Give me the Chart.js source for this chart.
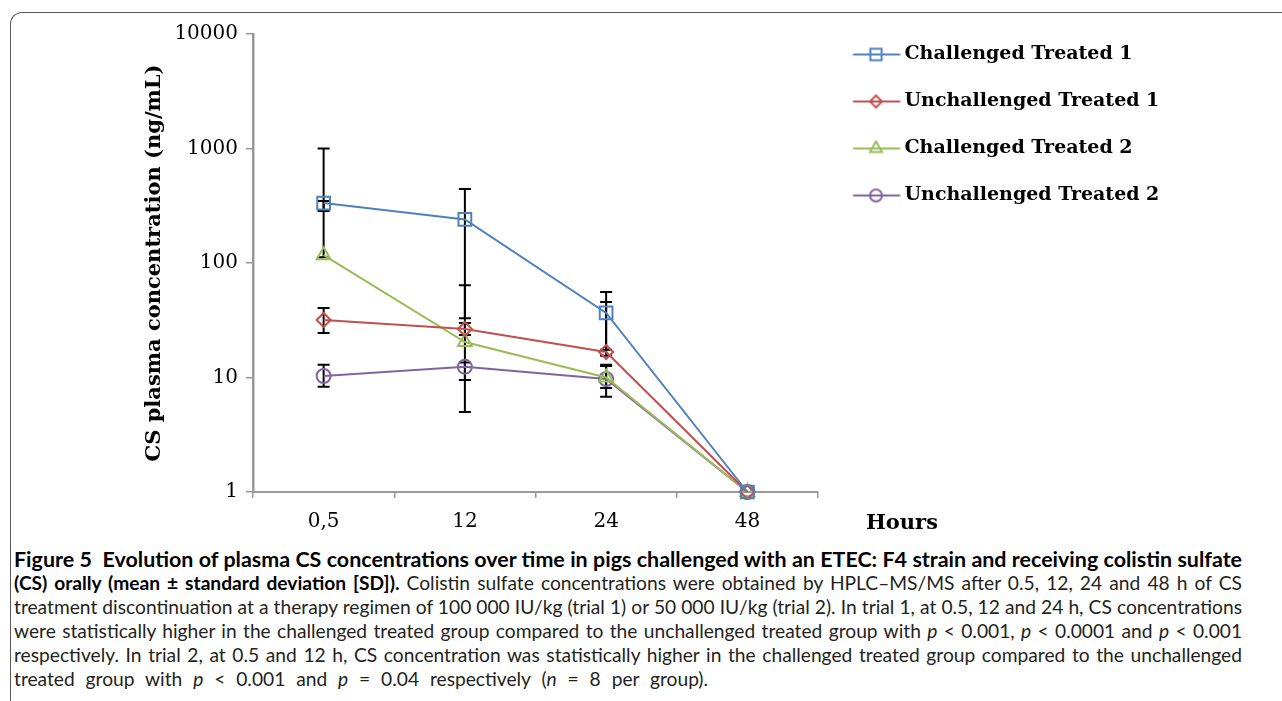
<!DOCTYPE html>
<html>
<head>
<meta charset="utf-8">
<script src="https://cdn.jsdelivr.net/npm/chart.js@4.4.1/dist/chart.umd.min.js"></script>
<style>
html,body{margin:0;padding:0;background:#fff;width:1282px;height:701px;overflow:hidden;}
#frame{position:absolute;left:10px;top:12px;width:1400px;height:800px;border-top:1.5px solid #555;border-left:1.5px solid #555;border-top-left-radius:12px;box-sizing:border-box;}
#wrap{position:absolute;left:0;top:0;width:1282px;height:545px;}
#hours{position:absolute;left:866px;top:508px;font:bold 21px "DejaVu Serif";color:#000;line-height:28px;}
.cap{position:absolute;left:14px;width:1228px;white-space:nowrap;font-family:"Lato";color:#231f20;line-height:24px;text-align:left;}
.cap.b{font-weight:bold;color:#000;}
</style>
</head>
<body>
<div id="frame"></div>
<div id="wrap"><canvas id="c" width="1282" height="545"></canvas></div>
<div id="hours">Hours</div>
<div class="cap b j" style="top:547px"><span>Figure 5&nbsp; Evolution of plasma CS concentrations over time in pigs challenged with an ETEC: F4 strain and receiving colistin sulfate</span></div>
<div class="cap j" style="top:571px"><span><b style="color:#000">(CS) orally (mean ± standard deviation [SD]).</b> Colistin sulfate concentrations were obtained by HPLC–MS/MS after 0.5, 12, 24 and 48 h of CS</span></div>
<div class="cap j" style="top:595px"><span>treatment discontinuation at a therapy regimen of 100 000 IU/kg (trial 1) or 50 000 IU/kg (trial 2). In trial 1, at 0.5, 12 and 24 h, CS concentrations</span></div>
<div class="cap j" style="top:619px"><span>were statistically higher in the challenged treated group compared to the unchallenged treated group with <i>p</i> &lt; 0.001, <i>p</i> &lt; 0.0001 and <i>p</i> &lt; 0.001</span></div>
<div class="cap j" style="top:643px"><span>respectively. In trial 2, at 0.5 and 12 h, CS concentration was statistically higher in the challenged treated group compared to the unchallenged</span></div>
<div class="cap last" style="top:667px"><span>treated group with <i>p</i> &lt; 0.001 and <i>p</i> = 0.04 respectively (<i>n</i> = 8 per group).</span></div>
<script>
// ---- data ----
const categories = ['0,5', '12', '24', '48'];
const seriesNames = ['Challenged Treated 1', 'Unchallenged Treated 1', 'Challenged Treated 2', 'Unchallenged Treated 2'];
const ct1 = [334, 240, 36.6, 1];
const ut1 = [31.8, 26.5, 16.7, 1];
const ct2 = [117, 20.4, 10, 1];
const ut2 = [10.3, 12.4, 9.7, 1];
// error bar ends (low / high)
const ct1Low = [285, 33, 17.5, null];
const ct1High = [1000, 443, 55.8, null];
const ut1Low = [24.5, 23.5, 15.5, null];
const ut1High = [40.4, 29.9, 45.6, null];
const ct2Low = [112, 5.0, 6.8, null];
const ct2High = [348, 64, 12.9, null];
const ut2Low = [8.3, 9.5, 8.1, null];
const ut2High = [12.9, 13.5, 12.6, null];
const yTicks = [1, 10, 100, 1000, 10000];

// ---- caption fitting: bold title line and regular lines fitted separately ----
(function(){
  const caps = Array.from(document.querySelectorAll('.cap'));
  const base = 18;
  caps.forEach(c => c.style.fontSize = base + 'px');
  let sB = Infinity, sR = Infinity;
  caps.forEach(c => {
    if (!c.classList.contains('j')) return;
    const w = c.querySelector('span').getBoundingClientRect().width;
    if (c.classList.contains('b')) sB = Math.min(sB, 1226 / w);
    else sR = Math.min(sR, 1224 / w);
  });
  caps.forEach(c => {
    const s = c.classList.contains('b') ? sB : sR;
    c.style.fontSize = (base * s).toFixed(2) + 'px';
    if (c.classList.contains('j') || c.classList.contains('last')) {
      c.style.whiteSpace = 'normal';
      c.style.textAlign = 'justify';
      c.style.textAlignLast = 'justify';
    }
    if (c.classList.contains('last')) c.style.width = '694px';
  });
})();

const colors = ['#4F81BD', '#C0504D', '#9BBB59', '#8064A2'];
const styles = ['rect', 'rectRot', 'triangle', 'circle'];
const radii = [9, 7, 8, 7];

function legendImg(color, style, r) {
  const c = document.createElement('canvas');
  c.width = 60; c.height = 22;
  const g = c.getContext('2d');
  g.fillStyle = '#ffffff';
  g.strokeStyle = color;
  g.lineWidth = 2;
  Chart.helpers.drawPoint(g, {pointStyle: style, radius: r, borderWidth: 2, rotation: 0}, 35.5, 11);
  g.beginPath(); g.moveTo(12.5, 11); g.lineTo(59.5, 11); g.stroke();
  return c;
}
const legendImgs = colors.map((c, i) => legendImg(c, styles[i], radii[i] - 1));

const legendFont = 'bold 19px "DejaVu Serif"';
const mctx = document.createElement('canvas').getContext('2d');
mctx.font = legendFont;
const maxTextW = Math.max(...seriesNames.map(s => mctx.measureText(s).width));
const legendPad = 28, pointW = 49;
const chartRight = 818, chartLeft = 253, chartTop = 34, chartBottom = 492, canvasH = 545;
const legendW = legendPad + pointW + 9.5 + maxTextW + 10;
const padRight = 1282 - chartRight - legendW;

const values = [ct1, ut1, ct2, ut2];
const lows = [ct1Low, ut1Low, ct2Low, ut2Low];
const highs = [ct1High, ut1High, ct2High, ut2High];

const datasets = values.map((v, i) => ({
  label: seriesNames[i],
  data: v,
  errLow: lows[i],
  errHigh: highs[i],
  borderColor: colors[i],
  backgroundColor: 'rgba(255,255,255,0)',
  borderWidth: 2,
  pointStyle: styles[i],
  pointRadius: radii[i],
  pointBorderWidth: 2,
  pointBorderColor: colors[i],
  pointBackgroundColor: 'rgba(255,255,255,0)',
  tension: 0,
  clip: false
}));

const errorBars = {
  id: 'errorBars',
  beforeDatasetsDraw(chart) {
    const ctx = chart.ctx, y = chart.scales.y;
    ctx.save();
    ctx.strokeStyle = '#000';
    ctx.lineWidth = 2;
    chart.data.datasets.forEach((ds, i) => {
      const meta = chart.getDatasetMeta(i);
      ds.errLow.forEach((lo, j) => {
        const hi = ds.errHigh[j];
        if (lo == null || hi == null) return;
        const px = meta.data[j].x;
        const yl = y.getPixelForValue(lo), yh = y.getPixelForValue(hi);
        ctx.beginPath();
        ctx.moveTo(px, yl); ctx.lineTo(px, yh);
        ctx.moveTo(px - 6, yl); ctx.lineTo(px + 6, yl);
        ctx.moveTo(px - 6, yh); ctx.lineTo(px + 6, yh);
        ctx.stroke();
      });
    });
    ctx.restore();
  }
};

new Chart(document.getElementById('c'), {
  type: 'line',
  data: {labels: categories, datasets},
  plugins: [errorBars],
  options: {
    responsive: false,
    animation: false,
    events: [],
    layout: {padding: {top: 17, left: 0, right: padRight, bottom: 0}},
    plugins: {
      tooltip: {enabled: false},
      legend: {
        position: 'right',
        align: 'start',
        maxWidth: legendW + 2,
        labels: {
          usePointStyle: true,
          pointStyleWidth: pointW,
          padding: legendPad,
          color: '#000',
          font: {family: 'DejaVu Serif', weight: 'bold', size: 19},
          generateLabels: (chart) => chart.data.datasets.map((ds, i) => ({
            text: ds.label,
            pointStyle: legendImgs[i],
            datasetIndex: i,
            fillStyle: 'rgba(0,0,0,0)',
            strokeStyle: ds.borderColor,
            lineWidth: 0,
            hidden: false,
            fontColor: '#000'
          }))
        }
      }
    },
    scales: {
      x: {
        type: 'category',
        offset: true,
        grid: {offset: true, drawOnChartArea: false, tickLength: 6, color: '#9a9a9a', lineWidth: 1.5},
        border: {color: '#9a9a9a', width: 2},
        ticks: {color: '#000', padding: 12, maxRotation: 0, font: {family: 'DejaVu Serif', size: 20}},
        afterFit(s) { s.height = canvasH - chartBottom; s.paddingLeft = 0; s.paddingRight = 0; }
      },
      y: {
        type: 'logarithmic',
        min: 1,
        max: 10000,
        grid: {drawOnChartArea: false, tickLength: 7, color: '#9a9a9a', lineWidth: 1.5},
        border: {color: '#9a9a9a', width: 2.5},
        afterBuildTicks(s) { s.ticks = yTicks.map(v => ({value: v})); },
        ticks: {color: '#000', padding: 8, font: {family: 'DejaVu Serif', size: 20}, callback: (v) => String(v)},
        title: {display: true, text: 'CS plasma concentration (ng/mL)', color: '#000',
                font: {family: 'DejaVu Serif', weight: 'bold', size: 21}, padding: {top: 142, bottom: 0}},
        afterFit(s) { s.width = chartLeft; s.paddingTop = chartTop; }
      }
    }
  }
});
</script>
</body>
</html>
